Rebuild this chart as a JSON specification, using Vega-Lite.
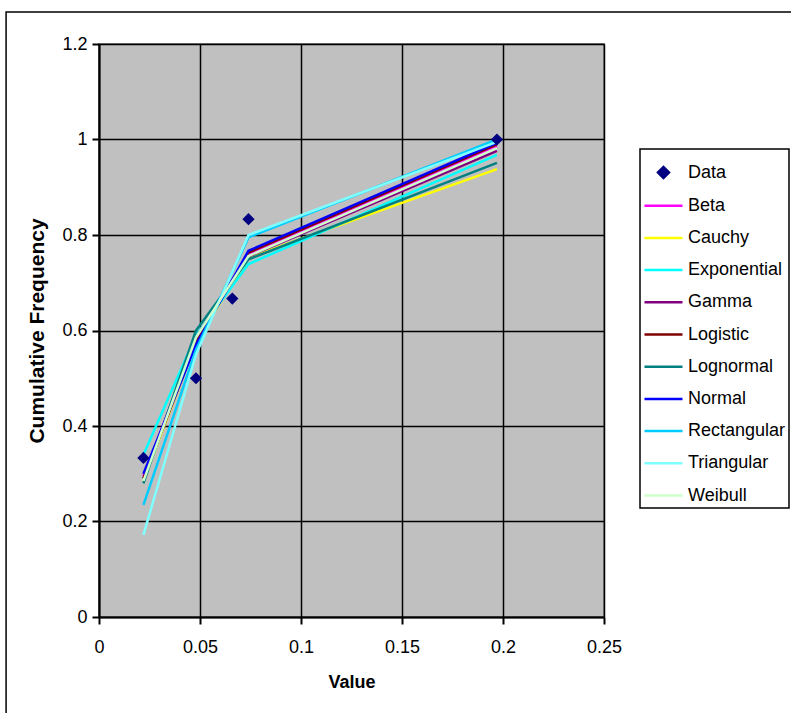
{
  "$schema": "https://vega.github.io/schema/vega-lite/v6.json",
  "width": 505,
  "height": 573,
  "autosize": {"type": "none"},
  "padding": {"left": 99, "top": 44, "right": 187, "bottom": 96},
  "background": "white",
  "config": {
    "font": "Liberation Sans",
    "view": {"fill": "#C0C0C0", "stroke": "#808080", "strokeWidth": 2},
    "axis": {
      "domainColor": "black",
      "domainWidth": 2,
      "gridColor": "black",
      "gridWidth": 1.5,
      "gridOpacity": 1,
      "tickColor": "black",
      "tickWidth": 2,
      "tickSize": 7,
      "labelColor": "black",
      "labelFont": "Liberation Sans",
      "labelFontSize": 18,
      "titleColor": "black",
      "titleFont": "Liberation Sans",
      "titleFontWeight": "bold"
    }
  },
  "datasets": {
    "points": [
      {"series": "Data", "value": 0.022, "freq": 0.333},
      {"series": "Data", "value": 0.048, "freq": 0.5},
      {"series": "Data", "value": 0.066, "freq": 0.667},
      {"series": "Data", "value": 0.074, "freq": 0.833},
      {"series": "Data", "value": 0.197, "freq": 1.0}
    ],
    "fits": [
      {"series": "Beta", "value": 0.022, "freq": 0.295},
      {"series": "Beta", "value": 0.048, "freq": 0.58},
      {"series": "Beta", "value": 0.074, "freq": 0.758},
      {"series": "Beta", "value": 0.197, "freq": 0.985},
      {"series": "Cauchy", "value": 0.022, "freq": 0.285},
      {"series": "Cauchy", "value": 0.048, "freq": 0.575},
      {"series": "Cauchy", "value": 0.074, "freq": 0.753},
      {"series": "Cauchy", "value": 0.197, "freq": 0.938},
      {"series": "Exponential", "value": 0.022, "freq": 0.34},
      {"series": "Exponential", "value": 0.048, "freq": 0.59},
      {"series": "Exponential", "value": 0.074, "freq": 0.739},
      {"series": "Exponential", "value": 0.197, "freq": 0.968},
      {"series": "Gamma", "value": 0.022, "freq": 0.29},
      {"series": "Gamma", "value": 0.048, "freq": 0.585},
      {"series": "Gamma", "value": 0.074, "freq": 0.755},
      {"series": "Gamma", "value": 0.197, "freq": 0.976},
      {"series": "Logistic", "value": 0.022, "freq": 0.29},
      {"series": "Logistic", "value": 0.048, "freq": 0.575},
      {"series": "Logistic", "value": 0.074, "freq": 0.763},
      {"series": "Logistic", "value": 0.197, "freq": 0.99},
      {"series": "Lognormal", "value": 0.022, "freq": 0.28},
      {"series": "Lognormal", "value": 0.048, "freq": 0.6},
      {"series": "Lognormal", "value": 0.074, "freq": 0.749},
      {"series": "Lognormal", "value": 0.197, "freq": 0.951},
      {"series": "Normal", "value": 0.022, "freq": 0.3},
      {"series": "Normal", "value": 0.048, "freq": 0.57},
      {"series": "Normal", "value": 0.074, "freq": 0.767},
      {"series": "Normal", "value": 0.197, "freq": 0.993},
      {"series": "Rectangular", "value": 0.022, "freq": 0.235},
      {"series": "Rectangular", "value": 0.048, "freq": 0.56},
      {"series": "Rectangular", "value": 0.074, "freq": 0.795},
      {"series": "Rectangular", "value": 0.197, "freq": 1.0},
      {"series": "Triangular", "value": 0.022, "freq": 0.172},
      {"series": "Triangular", "value": 0.048, "freq": 0.55},
      {"series": "Triangular", "value": 0.074, "freq": 0.8},
      {"series": "Triangular", "value": 0.197, "freq": 0.995},
      {"series": "Weibull", "value": 0.022, "freq": 0.285},
      {"series": "Weibull", "value": 0.048, "freq": 0.585},
      {"series": "Weibull", "value": 0.074, "freq": 0.756},
      {"series": "Weibull", "value": 0.197, "freq": 0.982}
    ],
    "frame": [{"x0": -0.046, "x1": 0.5, "y0": 1.267, "y1": -0.3}]
  },
  "layer": [
    {
      "data": {"name": "frame"},
      "mark": {"type": "rect", "fill": "transparent", "stroke": "black", "strokeWidth": 1.5, "clip": false},
      "encoding": {
        "x": {"field": "x0", "type": "quantitative", "scale": {"domain": [0, 0.25], "nice": false, "zero": false}, "axis": {"title": "Value", "titleFontSize": 18, "values": [0, 0.05, 0.1, 0.15, 0.2, 0.25], "format": "~g", "labelPadding": 14, "titlePadding": 17, "labelFlush": false}},
        "x2": {"field": "x1"},
        "y": {"field": "y0", "type": "quantitative", "scale": {"domain": [0, 1.2], "nice": false, "zero": false}, "axis": {"title": "Cumulative Frequency", "titleFontSize": 21, "values": [0, 0.2, 0.4, 0.6, 0.8, 1, 1.2], "format": "~g", "labelPadding": 5, "titlePadding": 14, "labelFlush": false}},
        "y2": {"field": "y1"}
      }
    },
    {
      "data": {"name": "fits"},
      "mark": {"type": "line", "strokeWidth": 2.5, "clip": true},
      "encoding": {
        "x": {"field": "value", "type": "quantitative"},
        "y": {"field": "freq", "type": "quantitative"},
        "color": {
          "field": "series",
          "type": "nominal",
          "scale": {
            "domain": ["Data", "Beta", "Cauchy", "Exponential", "Gamma", "Logistic", "Lognormal", "Normal", "Rectangular", "Triangular", "Weibull"],
            "range": ["#000080", "#FF00FF", "#FFFF00", "#00FFFF", "#800080", "#800000", "#008080", "#0000FF", "#00CCFF", "#80FFFF", "#CCFFCC"]
          },
          "legend": {
            "orient": "none",
            "legendX": 541,
            "legendY": 105,
            "title": null,
            "fillColor": "white",
            "strokeColor": "black",
            "padding": 3,
            "rowPadding": 2.2,
            "labelFont": "Liberation Sans",
            "labelFontSize": 18,
            "labelColor": "black",
            "labelOffset": 4,
            "symbolType": "stroke",
            "symbolSize": 1444,
            "symbolStrokeWidth": 2,
            "encode": {
              "legend": {"update": {"strokeWidth": {"value": 1.5}}},
              "symbols": {
                "update": {
                  "shape": {"signal": "datum.value === 'Data' ? 'diamond' : 'stroke'"},
                  "size": {"signal": "datum.value === 'Data' ? 120 : 1444"},
                  "fill": {"signal": "datum.value === 'Data' ? '#000080' : 'transparent'"},
                  "stroke": {"signal": "datum.value === 'Data' ? 'transparent' : scale('color', datum.value)"},
                  "strokeWidth": {"value": 2.5}
                }
              }
            }
          }
        },
        "order": {"field": "value", "type": "quantitative"}
      }
    },
    {
      "data": {"name": "points"},
      "mark": {"type": "point", "shape": "diamond", "filled": true, "size": 150, "opacity": 1},
      "encoding": {
        "x": {"field": "value", "type": "quantitative"},
        "y": {"field": "freq", "type": "quantitative"},
        "color": {"field": "series", "type": "nominal"}
      }
    }
  ]
}
